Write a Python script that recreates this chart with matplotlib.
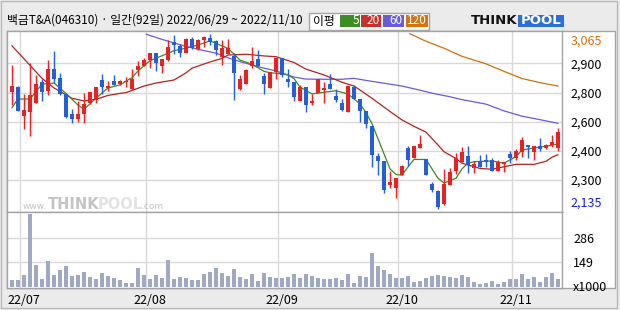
import matplotlib
matplotlib.use("Agg")
import matplotlib.pyplot as plt
import matplotlib.patches as patches
import matplotlib.transforms as mtransforms
import numpy as np

plt.rcParams['font.family'] = ['Noto Sans CJK KR', 'DejaVu Sans']

# --- data (daily candles, 2022/06/29 ~ 2022/11/10) ---
opens = [2760, 2785, 2630, 2650, 2700, 2810, 2765, 2880, 2835, 2750,
         2640, 2615, 2640, 2700, 2715, 2820, 2780, 2815, 2800, 2810,
         2775, 2875, 2895, 2930, 2965, 2895, 2930, 3025, 3005, 2965,
         3040, 2985, 3035, 3045, 3030, 2945, 2960, 2950, 2775, 2800,
         2895, 2935, 2845, 2780, 2865, 2940, 2830, 2810, 2710, 2785,
         2700, 2755, 2770, 2800, 2735, 2700, 2650, 2785, 2720, 2655,
         2580, 2420, 2390, 2265, 2250, 2315, 2460, 2405, 2460, 2400,
         2270, 2230, 2165, 2265, 2340, 2385, 2420, 2355, 2390, 2395,
         2395, 2340, 2375, 2430, 2405, 2440, 2475, 2440, 2470, 2460,
         2475, 2460]
highs = [2900, 2790, 2750, 2910, 2850, 2830, 2930, 2975, 2860, 2750,
         2670, 2710, 2755, 2760, 2785, 2855, 2815, 2850, 2820, 2840,
         2880, 2925, 2940, 2965, 2965, 2935, 3035, 3060, 3015, 3045,
         3050, 3040, 3055, 3065, 3035, 3035, 3040, 2965, 2850, 2880,
         3000, 2980, 2860, 2865, 2940, 2940, 2880, 2810, 2795, 2785,
         2750, 2825, 2810, 2855, 2775, 2720, 2790, 2795, 2720, 2660,
         2580, 2435, 2390, 2340, 2300, 2370, 2470, 2470, 2530, 2400,
         2280, 2235, 2350, 2355, 2435, 2465, 2470, 2390, 2425, 2430,
         2410, 2395, 2385, 2445, 2455, 2520, 2475, 2470, 2515, 2480,
         2530, 2565]
lows = [2690, 2655, 2560, 2525, 2700, 2710, 2740, 2805, 2740, 2620,
        2595, 2600, 2595, 2695, 2700, 2750, 2765, 2795, 2795, 2785,
        2770, 2845, 2895, 2885, 2870, 2860, 2925, 2960, 2945, 2965,
        2985, 2980, 2995, 3010, 2955, 2900, 2960, 2715, 2770, 2800,
        2885, 2895, 2750, 2780, 2825, 2840, 2785, 2710, 2710, 2650,
        2690, 2755, 2700, 2775, 2705, 2660, 2650, 2720, 2600, 2565,
        2360, 2315, 2220, 2250, 2195, 2315, 2365, 2405, 2460, 2315,
        2225, 2135, 2160, 2265, 2325, 2385, 2330, 2330, 2360, 2360,
        2340, 2340, 2335, 2380, 2395, 2415, 2410, 2395, 2445, 2455,
        2465, 2445]
closes = [2790, 2660, 2665, 2745, 2800, 2760, 2880, 2830, 2750, 2625,
          2615, 2640, 2695, 2760, 2785, 2785, 2790, 2795, 2815, 2815,
          2830, 2895, 2930, 2965, 2910, 2935, 3000, 3010, 2965, 3040,
          2990, 3035, 3050, 3025, 2980, 2990, 2990, 2860, 2825, 2875,
          2925, 2895, 2800, 2865, 2940, 2850, 2810, 2730, 2785, 2690,
          2710, 2825, 2780, 2775, 2715, 2665, 2790, 2720, 2660, 2590,
          2425, 2390, 2240, 2280, 2300, 2365, 2395, 2470, 2480, 2315,
          2240, 2145, 2270, 2335, 2405, 2440, 2370, 2375, 2360, 2385,
          2340, 2385, 2385, 2410, 2445, 2505, 2465, 2470, 2455, 2475,
          2495, 2545]
volumes = [43, 43, 72, 427, 129, 49, 154, 72, 101, 123,
           64, 72, 90, 59, 49, 82, 64, 53, 43, 25,
           25, 111, 72, 49, 72, 55, 160, 49, 60, 55,
           43, 43, 76, 90, 111, 82, 64, 105, 59, 49,
           76, 37, 82, 59, 55, 55, 59, 76, 53, 76,
           64, 53, 47, 47, 53, 41, 76, 23, 64, 59,
           199, 123, 99, 76, 53, 53, 64, 29, 35, 53,
           64, 70, 64, 59, 53, 70, 59, 29, 18, 23,
           35, 18, 29, 47, 47, 76, 47, 59, 29, 59,
           82, 47]

# moving averages, read at a handful of days
ma5_idx = [0, 1, 3, 5, 7, 9, 11, 12, 14, 16, 18, 20, 21, 23, 26, 27, 29, 31, 33, 34,
           36, 37, 38, 40, 42, 43, 45, 46, 47, 48, 50, 52, 54, 56, 58, 59, 60, 62, 63, 64,
           65, 66, 67, 69, 70, 71, 72, 74, 75, 76, 77, 80, 82, 84, 85, 88, 90, 91]
ma5_val = [2675, 2721, 2721, 2800, 2806, 2751, 2689, 2666, 2725, 2780, 2796, 2835, 2870, 2925,
           2964, 2978, 2991, 3008, 3030, 3017, 2990, 2960, 2928, 2906, 2868, 2861, 2855, 2849,
           2830, 2785, 2748, 2757, 2765, 2748, 2695, 2650, 2590, 2430, 2350, 2320, 2317, 2360,
           2400, 2400, 2350, 2300, 2275, 2300, 2350, 2380, 2388, 2392, 2380, 2415, 2450, 2466,
           2475, 2482]
ma20_idx = [0, 3, 5, 7, 10, 12, 14, 16, 18, 19, 22, 24, 27, 29, 30, 33, 35, 36, 39, 42,
            44, 47, 49, 52, 55, 57, 58, 60, 63, 65, 67, 69, 71, 72, 74, 75, 78, 80, 82, 84,
            87, 89, 90, 91]
ma20_val = [3004, 2900, 2831, 2780, 2725, 2711, 2720, 2740, 2751, 2755, 2790, 2806, 2822, 2860,
            2885, 2918, 2937, 2955, 2959, 2950, 2946, 2915, 2880, 2849, 2810, 2790, 2769, 2725,
            2655, 2610, 2576, 2545, 2477, 2441, 2405, 2380, 2352, 2348, 2361, 2374, 2374, 2390,
            2412, 2425]
ma60_idx = [22.4, 25, 28, 31, 34, 36, 38, 41, 44, 47, 49, 52, 55, 57, 59, 62, 65, 68, 70, 73,
            75, 79, 82, 85, 89, 91]
ma60_val = [3065, 3038, 3010, 2985, 2965, 2940, 2920, 2893, 2870, 2838, 2827, 2826, 2826, 2831,
            2820, 2805, 2790, 2768, 2752, 2733, 2718, 2694, 2658, 2630, 2605, 2592]
ma120_idx = [66.3, 69, 72, 75, 79, 82, 85, 88, 91]
ma120_val = [3068, 3028, 2991, 2948, 2908, 2868, 2830, 2808, 2790]

month_idx = [2, 23, 45, 65, 84]
month_labels = ["22/07", "22/08", "22/09", "22/10", "22/11"]
price_ticks = [2910, 2755, 2600, 2445, 2290]
price_tick_labels = ["2,900", "2,800", "2,600", "2,400", "2,300"]
price_max, price_min = 3065, 2135
vol_ticks = [149, 286]

UP = "#f01e1e"
DOWN = "#1f5fe0"
GRID = "#d9d9d9"
FRAME = "#a4a4a4"

W, H = 620, 310
fig = plt.figure(figsize=(W / 100, H / 100), dpi=100, facecolor="#ebebeb")


def fx(x):
    return x / W


def fy(y):
    return 1 - y / H


# outer frame and white chart area (behind the axes)
fig.patches.append(patches.Rectangle((fx(1), fy(308)), fx(616), 307 / H, transform=fig.transFigure,
                                     facecolor="none", edgecolor="#b8b8b8", lw=1, zorder=-2))
fig.patches.append(patches.Rectangle((fx(7), fy(288)), fx(608), 257 / H, transform=fig.transFigure,
                                     facecolor="white", edgecolor=FRAME, lw=1, zorder=-1))

ax = fig.add_axes([fx(7), fy(212), fx(555), 181 / H])
axv = fig.add_axes([fx(7), fy(288), fx(555), 76 / H], sharex=ax)

x = np.arange(len(closes))
o = np.array(opens)
c = np.array(closes)
colors = [UP if cc >= oo else DOWN for oo, cc in zip(o, c)]

# gridlines
for a in (ax, axv):
    for m in month_idx:
        a.axvline(m - 0.6, color=GRID, lw=1, zorder=0)
for t in price_ticks:
    ax.axhline(t, color=GRID, lw=1, zorder=0)
for t in vol_ticks:
    axv.axhline(t, color=GRID, lw=1, zorder=0)

# watermark
wm = dict(transform=ax.transAxes, family="DejaVu Sans", va="baseline", zorder=1)
ax.text(0.029, 0.015, "www.", fontsize=6.5, color="#c4c4c4", **wm)
ax.text(0.073, 0.015, "THINK", fontsize=10.5, fontweight="bold", color="#c4c4c4", **wm)
ax.text(0.164, 0.015, "POOL", fontsize=10.5, fontweight="bold", color="#e3e3e3", **wm)
ax.text(0.242, 0.015, ".com", fontsize=6.5, color="#c4c4c4", **wm)

# moving averages
ax.plot(ma120_idx, ma120_val, color="#d4700c", lw=0.9, zorder=2)
ax.plot(ma60_idx, ma60_val, color="#6a5ae0", lw=0.9, zorder=2)
ax.plot(ma20_idx, ma20_val, color="#b4221e", lw=0.9, zorder=2)
ax.plot(ma5_idx, ma5_val, color="#3c8c1e", lw=0.9, zorder=2)

# candles
ax.vlines(x, lows, highs, colors=colors, lw=1, zorder=3)
ax.bar(x, np.maximum(np.abs(c - o), 5), bottom=np.minimum(o, c), width=0.76,
       color=colors, linewidth=0, zorder=4, antialiased=False)

ax.set_xlim(-0.83, 91.67)
ax.set_ylim(2120.7, 3082.5)
ax.yaxis.tick_right()
ax.set_yticks(price_ticks, price_tick_labels)
ax.tick_params(axis="y", length=0, pad=6.3, labelsize=9)
ax.tick_params(axis="x", length=0, labelbottom=False)
blend = mtransforms.blended_transform_factory(ax.transAxes, ax.transData)
ax.text(1.0157, price_max, "3,065", transform=blend, ha="left", va="top", fontsize=9, color="#d4700c")
ax.text(1.0157, price_min, "2,135", transform=blend, ha="left", va="bottom", fontsize=9, color="#1a1ae0")

# volume
axv.bar(x, volumes, width=0.76, color="#a0a9c3", linewidth=0, antialiased=False, zorder=2)
axv.set_ylim(-4, 437)
axv.yaxis.tick_right()
axv.set_yticks(vol_ticks, [str(v) for v in vol_ticks])
axv.tick_params(axis="y", length=0, pad=8, labelsize=9)
blendv = mtransforms.blended_transform_factory(axv.transAxes, axv.transData)
axv.text(1.0198, 0, "x1000", transform=blendv, ha="left", va="center", fontsize=9)
axv.set_xticks(month_idx, month_labels)
axv.tick_params(axis="x", length=0, pad=4, labelsize=9)

for a in (ax, axv):
    a.set_facecolor("white")
    for s in a.spines.values():
        s.set_color(FRAME)
        s.set_linewidth(1)

# header
fig.text(fx(7), fy(20), "백금T&A(046310) · 일간(92일) 2022/06/29 ~ 2022/11/10",
         fontsize=8.5, va="center", ha="left")

# MA legend box
fig.patches.append(patches.Rectangle((fx(309), fy(29.5)), fx(120), 16.5 / H, transform=fig.transFigure,
                                     facecolor="white", edgecolor=FRAME, lw=1))
fig.text(fx(313), fy(21), "이평", fontsize=8.5, va="center", ha="left")
legend_items = [("5", "#3b8e22", 340, 360), ("20", "#c8302a", 361, 381),
                ("60", "#6a5ae0", 383, 404), ("120", "#d9730d", 406, 428)]
for label, col, x0, x1 in legend_items:
    fig.patches.append(patches.Rectangle((fx(x0), fy(27)), fx(x1 - x0), 12 / H, transform=fig.transFigure,
                                         facecolor=col, edgecolor="none"))
    fig.text(fx(x1 - 1), fy(21), label, fontsize=8.5, color="white", va="center", ha="right")

# logo
fig.text(fx(517), fy(21), "THINK", fontsize=9.5, fontweight="bold", family="DejaVu Sans",
         va="center", ha="right", color="#111111")
fig.patches.append(patches.Rectangle((fx(518), fy(27)), fx(46), 12 / H, transform=fig.transFigure,
                                     facecolor="#2d6fd8", edgecolor="none"))
fig.text(fx(541), fy(21), "POOL", fontsize=9.5, fontweight="bold", family="DejaVu Sans",
         va="center", ha="center", color="white")

fig.savefig("out.png", dpi=100, facecolor=fig.get_facecolor())
